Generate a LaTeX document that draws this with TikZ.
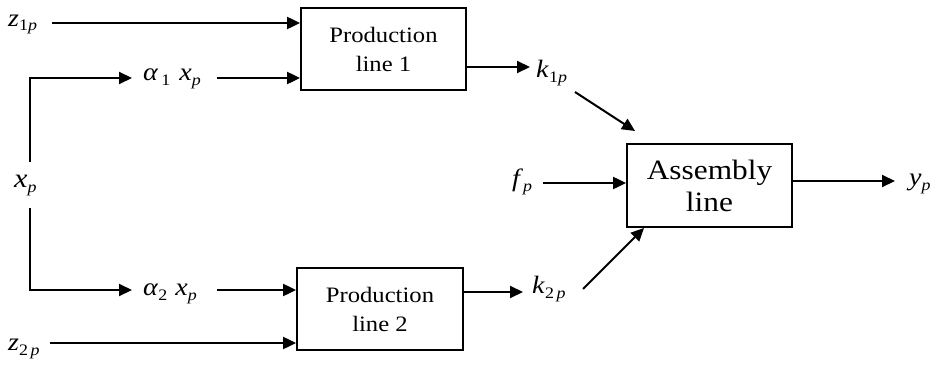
\documentclass[tikz,border=0pt]{standalone}
\usepackage{fontspec}
\setmainfont[FakeStretch=1.12]{Liberation Serif}
\usetikzlibrary{arrows.meta}
\newcommand{\mv}[1]{\textit{#1}}
\newcommand{\sbs}[1]{\raisebox{-5pt}{\fontsize{16}{16}\selectfont #1}}
\tikzset{
  arr/.style={line width=2pt,-{Triangle[length=13pt,width=12pt]}},
  blk/.style={draw,line width=1.8pt,inner sep=0pt,align=center},
  lbl/.style={anchor=base west,inner sep=0pt,font=\fontsize{25}{28}\selectfont}
}
\begin{document}
\begin{tikzpicture}[x=1pt,y=-1pt]
\useasboundingbox (0,0) rectangle (941,364);
% blocks
\node[blk,minimum width=165pt,minimum height=82pt,font=\fontsize{22}{29}\selectfont] (P1) at (383.5,49) {Production\\line 1};
\node[blk,minimum width=166pt,minimum height=82pt,font=\fontsize{22}{29}\selectfont] (P2) at (380,309) {Production\\line 2};
\node[blk,minimum width=165pt,minimum height=83pt,font=\fontsize{28}{32}\selectfont] (A) at (709.5,185.5) {Assembly\\line};
% labels
\node[lbl] (z1) at (8,26) {\mv{z}\sbs{1\mv{p}}};
\node[lbl] (a1) at (143,80) {\mv{α}\hspace{3pt}\sbs{1}\hspace{9pt}\mv{x}\sbs{\mv{p}}};
\node[lbl,font=\fontsize{27}{30}\selectfont] (xp) at (14,187) {\mv{x}\sbs{\mv{p}}};
\node[lbl] (a2) at (143,295) {\mv{α}\sbs{2}\hspace{8pt}\mv{x}\sbs{\mv{p}}};
\node[lbl] (z2) at (8,350) {\mv{z}\sbs{2\,\mv{p}}};
\node[lbl] (k1) at (536,77) {\mv{k}\sbs{1\mv{p}}};
\node[lbl] (k2) at (532,293) {\mv{k}\sbs{2\,\mv{p}}};
\node[lbl] (fp) at (512,186) {\mv{f}\sbs{\mv{p}}};
\node[lbl] (yp) at (909,185) {\mv{y}\sbs{\mv{p}}};
% connector ends
\coordinate (z1o) at (52,23);
\coordinate (a1i) at (30,162);
\coordinate (a1e) at (132,78);
\coordinate (a1o) at (217,78);
\coordinate (a2i) at (30,208);
\coordinate (a2e) at (132,290);
\coordinate (a2o) at (217,290);
\coordinate (z2o) at (50,343);
\coordinate (k1e) at (530,67);
\coordinate (k1s) at (575,92);
\coordinate (k1t) at (635,131);
\coordinate (k2e) at (523,292);
\coordinate (k2s) at (583,289);
\coordinate (k2t) at (644,228);
\coordinate (fo) at (543,183);
\coordinate (ye) at (895,181);
% connectors
\draw[arr] (z1o) -- (z1o -| P1.west);
\draw[arr] (a1i) |- (a1e);
\draw[arr] (a1o) -- (a1o -| P1.west);
\draw[arr] (a2i) |- (a2e);
\draw[arr] (a2o) -- (a2o -| P2.west);
\draw[arr] (z2o) -- (z2o -| P2.west);
\draw[arr] (P1.east |- k1e) -- (k1e);
\draw[arr] (k1s) -- (k1t);
\draw[arr] (P2.east |- k2e) -- (k2e);
\draw[arr] (k2s) -- (k2t);
\draw[arr] (fo) -- (fo -| A.west);
\draw[arr] (A.east |- ye) -- (ye);
\end{tikzpicture}
\end{document}
